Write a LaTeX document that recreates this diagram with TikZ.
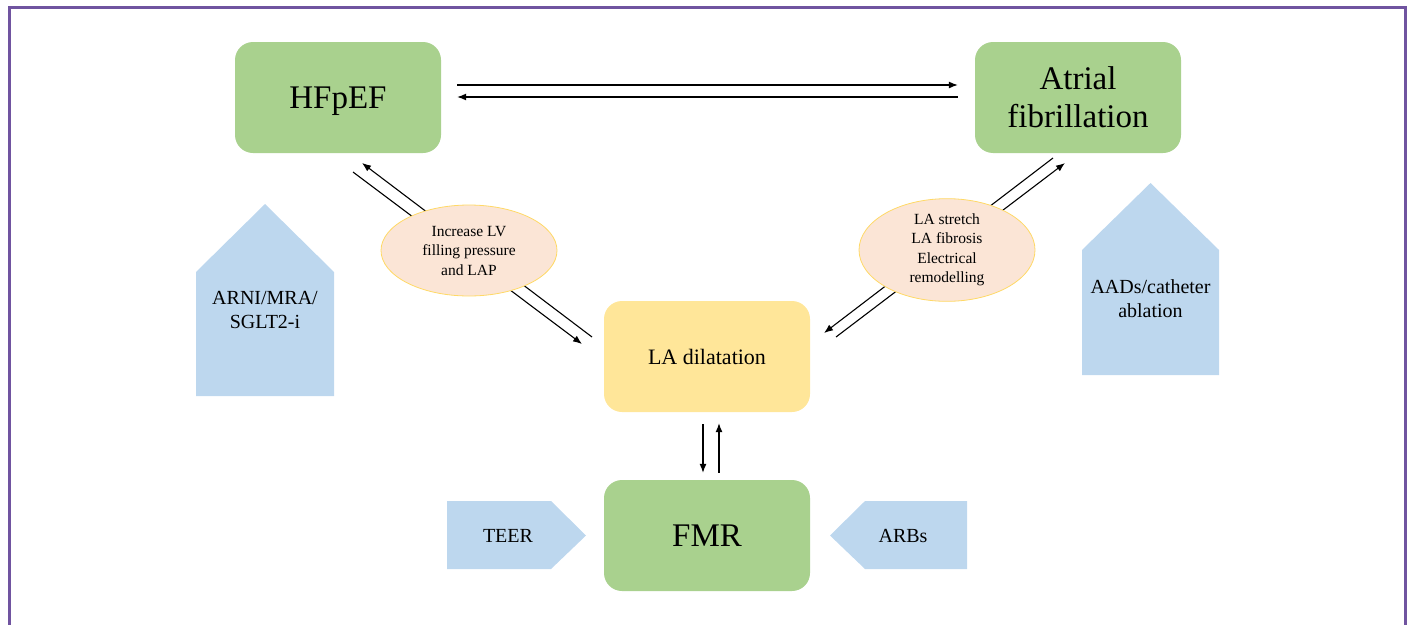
\documentclass[tikz,border=0pt]{standalone}
\usepackage{fontspec}
\setmainfont{Liberation Serif}
\usetikzlibrary{shapes.geometric,arrows.meta}
\definecolor{framec}{RGB}{112,84,160}
\definecolor{boxgreen}{HTML}{A9D18E}
\definecolor{boxyellow}{HTML}{FFE699}
\definecolor{boxblue}{HTML}{BDD7EE}
\definecolor{ellfill}{HTML}{FBE5D6}
\definecolor{elldraw}{HTML}{FFD966}
\begin{document}
\begin{tikzpicture}[x=1pt,y=-1pt,
  mainbox/.style={rounded corners=18pt, minimum width=206pt, minimum height=111pt, inner sep=0pt, align=center, text=black},
  greenbox/.style={mainbox, fill=boxgreen},
  yellowbox/.style={mainbox, fill=boxyellow},
  causeell/.style={ellipse, fill=ellfill, draw=elldraw, line width=0.8pt, minimum width=176pt, minimum height=91pt, inner sep=0pt, align=center, font=\fontsize{15.5}{19.5}\selectfont},
  therapy/.style={fill=boxblue},
  ttext/.style={align=center, inner sep=0pt, font=\fontsize{20}{24}\selectfont},
  arr/.style={line width=1.1pt, -{Latex[length=9pt,width=7pt]}}
]
\useasboundingbox (0,0) rectangle (1412,624);
% frame
\draw[framec, line width=2.6pt] (9.5,640) -- (9.5,7.5) -- (1405.5,7.5) -- (1405.5,640);

% main boxes
\node[greenbox, text depth=0pt, font=\fontsize{33}{40}\selectfont] (hf) at (338,97.5) {HFpEF};
\node[greenbox, font=\fontsize{33}{40}\selectfont] (af) at (1078,97.5) {\raisebox{-2pt}{Atrial}\\fibrillation};
\node[yellowbox, font=\fontsize{22}{26}\selectfont] (la) at (707,356.5) {\raisebox{-1.5pt}{LA dilatation}};
\node[greenbox, font=\fontsize{33}{40}\selectfont] (fmr) at (707,535.5) {FMR};

% horizontal arrows
\draw[arr] ([yshift=12.5pt,xshift=16pt]hf.east) -- ([yshift=12.5pt,xshift=-17pt]af.west);
\draw[arr] ([yshift=0.5pt,xshift=-17pt]af.west) -- ([yshift=0.5pt,xshift=16pt]hf.east);

% diagonal arrow end points
\coordinate (l1s) at (353,172);
\coordinate (l1e) at (582,344);
\coordinate (l2s) at (592,337);
\coordinate (l2e) at (362,163);
\coordinate (r1s) at (1053,158);
\coordinate (r1e) at (824,333);
\coordinate (r2s) at (836,337);
\coordinate (r2e) at (1065,163);
\draw[arr] (l1s) -- (l1e);
\draw[arr] (l2s) -- (l2e);
\draw[arr] (r1s) -- (r1e);
\draw[arr] (r2s) -- (r2e);

% vertical arrows
\draw[arr] ([xshift=-4pt,yshift=-12pt]la.south) -- ([xshift=-4pt,yshift=7pt]fmr.north);
\draw[arr] ([xshift=12pt,yshift=7pt]fmr.north) -- ([xshift=12pt,yshift=-11pt]la.south);

% mechanism ellipses
\node[causeell] (e1) at (469,250.5) {Increase LV\\filling pressure\\and LAP};
\node[causeell] (e2) at (947,250) {LA stretch\\LA fibrosis\\Electrical\\remodelling};

% therapy shapes
\fill[therapy] (196,396) -- (196,272) -- (265,204) -- (334,272) -- (334,396) -- cycle;
\node[ttext] (arni) at (265,310) {ARNI/MRA/\\SGLT2-i};
\fill[therapy] (1082,375) -- (1082,250) -- (1150.5,183) -- (1219,250) -- (1219,375) -- cycle;
\node[ttext] (aad) at (1150.5,299) {AADs/catheter\\ablation};
\fill[therapy] (447,501) -- (551,501) -- (586,535.5) -- (551,569) -- (447,569) -- cycle;
\node[ttext] (teer) at (508,536) {TEER};
\fill[therapy] (967,501) -- (865,501) -- (830,535.5) -- (865,569) -- (967,569) -- cycle;
\node[ttext] (arbs) at (903,536) {ARBs};
\end{tikzpicture}
\end{document}
